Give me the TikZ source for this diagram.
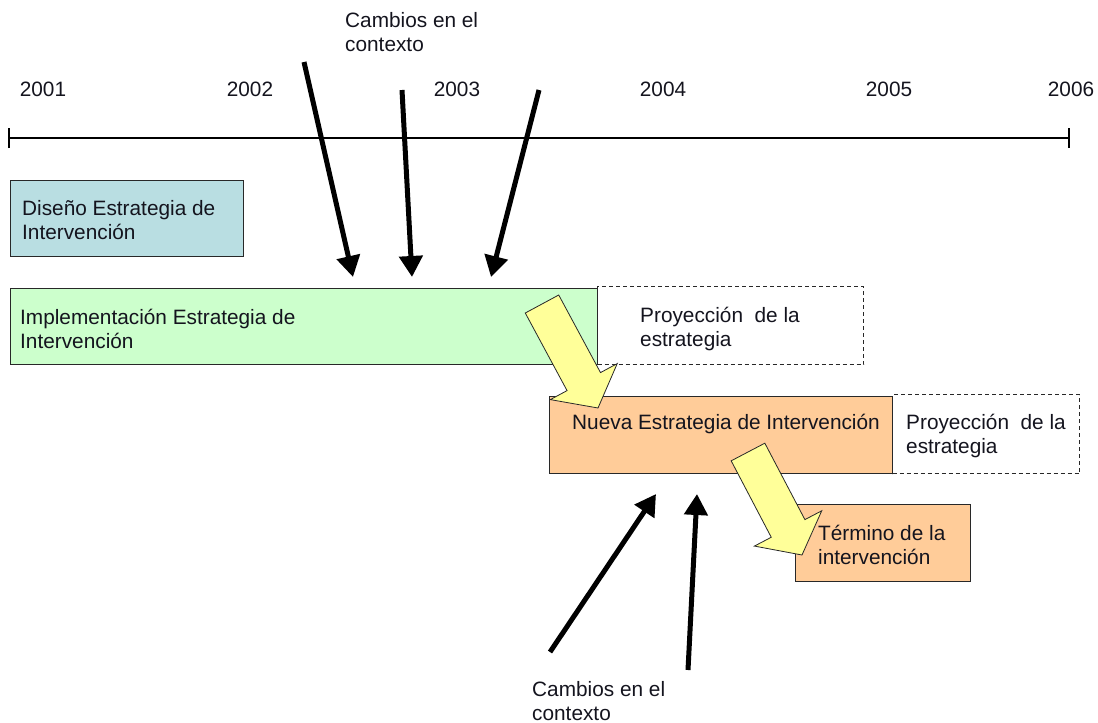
\documentclass[tikz,border=0pt]{standalone}
\usepackage{fontspec}
\setmainfont{Liberation Sans}
\usetikzlibrary{arrows.meta,calc}

\definecolor{disfill}{RGB}{185,222,226}
\definecolor{impfill}{RGB}{204,255,204}
\definecolor{newfill}{RGB}{255,204,153}
\definecolor{yarfill}{RGB}{255,255,153}
\definecolor{edge}{RGB}{40,40,40}
\definecolor{ink}{RGB}{20,20,30}

% yellow block arrow from #1 (middle of the tail) to #2 (tip)
\newcommand\blockarrow[2]{%
  \coordinate (ba-h) at ($(#2)!30pt!(#1)$);
  \draw[yarrow] ($(#1)!19pt!90:(#2)$) -- ($(ba-h)!19pt!-90:(#1)$)
    -- ($(ba-h)!38pt!-90:(#1)$) -- (#2) -- ($(ba-h)!38pt!90:(#1)$)
    -- ($(ba-h)!19pt!90:(#1)$) -- ($(#1)!19pt!-90:(#2)$) -- cycle;}

\begin{document}
\begin{tikzpicture}[x=1pt,y=-1pt,
  every node/.style={font=\fontsize{20.8}{24.5}\selectfont, text=ink},
  box/.style={draw=edge, line width=1.1pt, anchor=north west, inner sep=0pt},
  dashbox/.style={draw=edge, line width=1.1pt, dash pattern=on 4pt off 3pt, anchor=north west, inner sep=0pt},
  txt/.style={anchor=west, align=left, inner sep=0pt},
  year/.style={anchor=center, inner sep=0pt},
  yarrow/.style={fill=yarfill, draw=edge, line width=0.8pt, line join=miter},
  change/.style={line width=5pt, -{Triangle[length=21pt,width=23pt]}},
]
\useasboundingbox (0,0) rectangle (1098,723);

% time axis
\coordinate (t0) at (8,138);
\coordinate (t1) at (1070,138);
\draw[line width=2pt, {Bar[width=20pt]}-{Bar[width=20pt]}] (t0) -- (t1);
\node[year] (y2001) at (43,89) {2001};
\node[year] (y2002) at (250,89) {2002};
\node[year] (y2003) at (457,89) {2003};
\node[year] (y2004) at (663,89) {2004};
\node[year] (y2005) at (889,89) {2005};
\node[year] (y2006) at (1071,89) {2006};

% phases
\node[box, fill=disfill, minimum width=233pt, minimum height=76pt] (dis) at (10,180) {};
\node[txt] (dist) at (22,220) {Diseño Estrategia de\\Intervención};

\node[box, fill=impfill, minimum width=587pt, minimum height=76pt] (imp) at (10,288) {};
\node[txt] (impt) at (20,329) {Implementación Estrategia de\\Intervención};

\node[dashbox, minimum width=266pt, minimum height=78pt] (pro1) at (597,286) {};
\node[txt] (pro1t) at (640,329) {Proyección~ de la\\estrategia};

\node[box, fill=newfill, minimum width=343pt, minimum height=77pt] (nue) at (549,396) {};
\node[txt] (nuet) at (572,424) {Nueva Estrategia de Intervención};

\node[dashbox, minimum width=187pt, minimum height=79pt] (pro2) at (892,394) {};
\node[txt] (pro2t) at (906,436) {Proyección~ de la\\estrategia};

\node[box, fill=newfill, minimum width=175pt, minimum height=77pt] (ter) at (795,504) {};
\node[txt] (tert) at (818,545) {Término de la\\intervención};

% transitions between phases
\coordinate (ya1s) at (542,304);
\coordinate (ya1e) at (598,408);
\blockarrow{ya1s}{ya1e}
\coordinate (ya2s) at (748,452);
\coordinate (ya2e) at (802,555);
\blockarrow{ya2s}{ya2e}

% changes in the context
\node[txt, anchor=north west] (cam1) at (345,12) {Cambios en el\\contexto};
\coordinate (c1s) at (304,62);
\coordinate (c1e) at (353,277);
\coordinate (c2s) at (402,90);
\coordinate (c2e) at (412,277);
\coordinate (c3s) at (539,90);
\coordinate (c3e) at (491,277);
\draw[change] (c1s) -- (c1e);
\draw[change] (c2s) -- (c2e);
\draw[change] (c3s) -- (c3e);

\node[txt, anchor=north west] (cam2) at (532,681) {Cambios en el\\contexto};
\coordinate (c4s) at (550,652);
\coordinate (c4e) at (656,494);
\coordinate (c5s) at (688,670);
\coordinate (c5e) at (697,494);
\draw[change] (c4s) -- (c4e);
\draw[change] (c5s) -- (c5e);
\end{tikzpicture}
\end{document}
